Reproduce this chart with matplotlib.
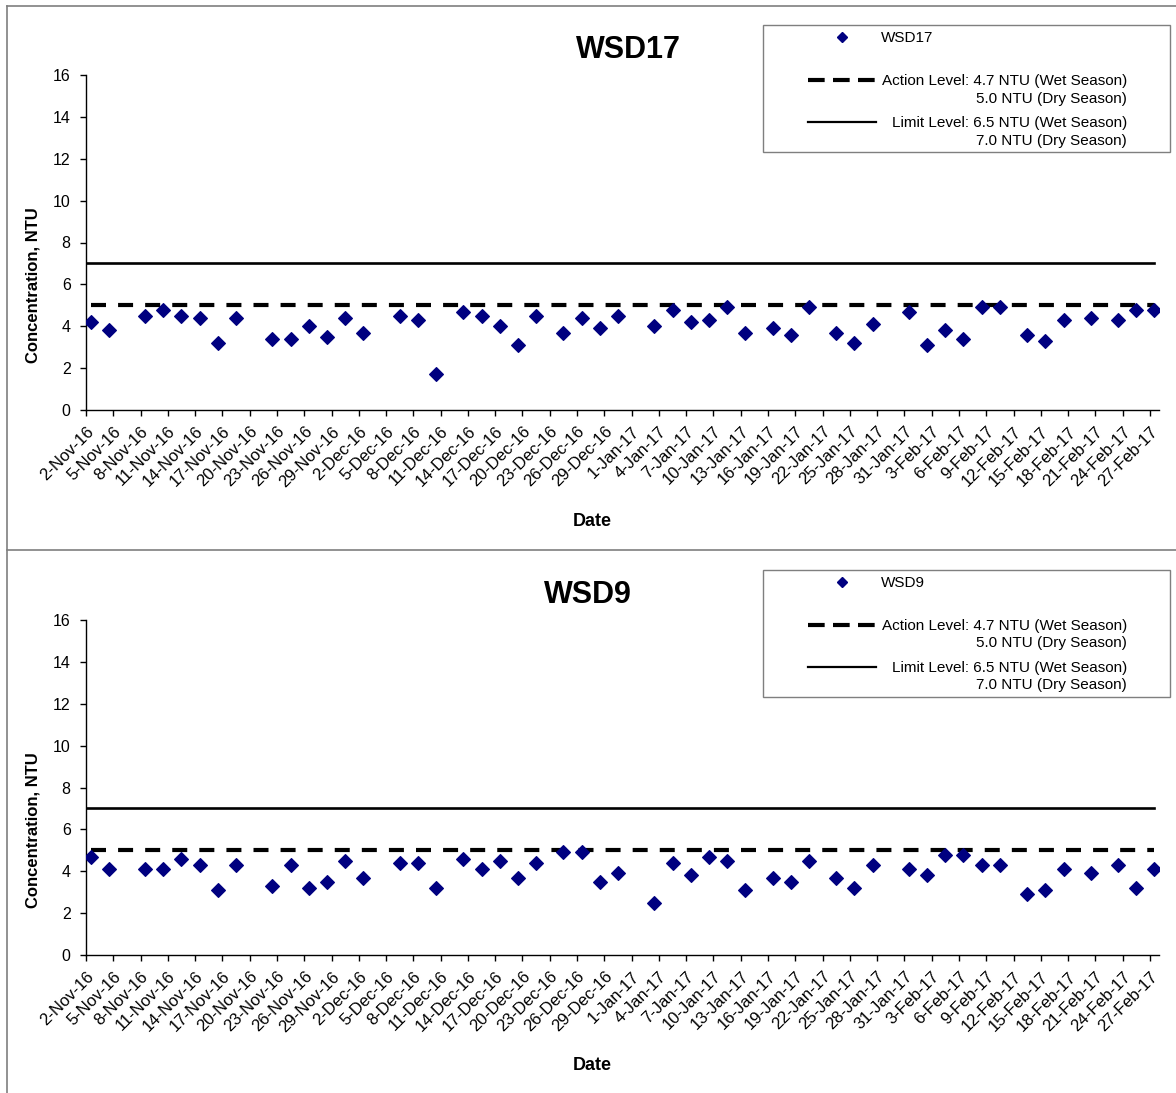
import numpy as np
import pandas as pd
import matplotlib
matplotlib.use("Agg")
import matplotlib.pyplot as plt
from matplotlib.lines import Line2D
from matplotlib.patches import Rectangle

plt.rcParams['font.family'] = ['Liberation Sans', 'DejaVu Sans']

# sampling dates (same for both stations)
sample_dates = [
    "2016-11-02", "2016-11-04", "2016-11-08", "2016-11-10", "2016-11-12", "2016-11-14",
    "2016-11-16", "2016-11-18", "2016-11-22", "2016-11-24", "2016-11-26", "2016-11-28",
    "2016-11-30", "2016-12-02", "2016-12-06", "2016-12-08", "2016-12-10", "2016-12-13",
    "2016-12-15", "2016-12-17", "2016-12-19", "2016-12-21", "2016-12-24", "2016-12-26",
    "2016-12-28", "2016-12-30", "2017-01-03", "2017-01-05", "2017-01-07", "2017-01-09",
    "2017-01-11", "2017-01-13", "2017-01-16", "2017-01-18", "2017-01-20", "2017-01-23",
    "2017-01-25", "2017-01-27", "2017-01-31", "2017-02-02", "2017-02-04", "2017-02-06",
    "2017-02-08", "2017-02-10", "2017-02-13", "2017-02-15", "2017-02-17", "2017-02-20",
    "2017-02-23", "2017-02-25", "2017-02-27",
]

wsd17 = [
    4.2, 3.8, 4.5, 4.8, 4.5, 4.4, 3.2, 4.4, 3.4, 3.4, 4.0, 3.5, 4.4,
    3.7, 4.5, 4.3, 1.7, 4.7, 4.5, 4.0, 3.1, 4.5, 3.7, 4.4, 3.9, 4.5,
    4.0, 4.8, 4.2, 4.3, 4.9, 3.7, 3.9, 3.6, 4.9, 3.7, 3.2, 4.1, 4.7,
    3.1, 3.8, 3.4, 4.9, 4.9, 3.6, 3.3, 4.3, 4.4, 4.3, 4.8, 4.8,
]

wsd9 = [
    4.7, 4.1, 4.1, 4.1, 4.6, 4.3, 3.1, 4.3, 3.3, 4.3, 3.2, 3.5, 4.5,
    3.7, 4.4, 4.4, 3.2, 4.6, 4.1, 4.5, 3.7, 4.4, 4.9, 4.9, 3.5, 3.9,
    2.5, 4.4, 3.8, 4.7, 4.5, 3.1, 3.7, 3.5, 4.5, 3.7, 3.2, 4.3, 4.1,
    3.8, 4.8, 4.8, 4.3, 4.3, 2.9, 3.1, 4.1, 3.9, 4.3, 3.2, 4.1,
]

action_level = 5.0
limit_level = 7.0
action_text = ["Action Level: 4.7 NTU (Wet Season)", "5.0 NTU (Dry Season)"]
limit_text = ["Limit Level: 6.5 NTU (Wet Season)", "7.0 NTU (Dry Season)"]
tick_start = "2016-11-02"
tick_end = "2017-02-27"
y_ticks = [0, 2, 4, 6, 8, 10, 12, 14, 16]

W, H = 1176, 1093
fig = plt.figure(figsize=(W / 100, H / 100), dpi=100)


def fx(x):
    return x / W


def fy(y):
    return 1 - y / H


t0 = pd.Timestamp(tick_start)
days = (pd.to_datetime(sample_dates) - t0).days.values + 0.5
tick_dates = pd.date_range(tick_start, tick_end, freq="3D")
tick_pos = (tick_dates - t0).days.values
tick_labels = [f"{d.day}-{d.strftime('%b-%y')}" for d in tick_dates]

NAVY = '#000080'
GRAY = '#7f7f7f'


def panel(off, name, values, title_x):
    # off = vertical pixel offset of this panel
    ax = fig.add_axes([fx(86), fy(off + 410), fx(1159) - fx(86), 335 / H])
    ax.plot(days, values, linestyle='none', marker='D', ms=7.0, mew=0.8,
            color=NAVY, mec=NAVY, zorder=4)
    ax.plot([days[0], days[-1]], [action_level] * 2, color='black', lw=3,
            dashes=(3.6, 2.9), zorder=3)
    ax.plot([0, days[-1]], [limit_level] * 2, color='black', lw=1.9, zorder=3)
    ax.set_xlim(0, 118)
    ax.set_ylim(0, 16)
    ax.set_yticks(y_ticks)
    ax.set_xticks(tick_pos)
    ax.set_xticklabels(tick_labels, rotation=45, ha='right', va='top',
                       rotation_mode='anchor')
    ax.tick_params(direction='out', length=4, width=1)
    ax.tick_params(axis='y', labelsize=11.5, pad=7)
    ax.tick_params(axis='x', labelsize=12, pad=6)
    for s in ['top', 'right']:
        ax.spines[s].set_visible(False)
    for s in ['left', 'bottom']:
        ax.spines[s].set_linewidth(1)

    fig.text(fx(title_x), fy(off + 50), name, ha='center', va='center',
             fontsize=22, fontweight='bold')
    fig.text(fx(33), fy(off + 285), "Concentration, NTU", rotation=90,
             ha='center', va='center', fontsize=12, fontweight='bold')
    fig.text(fx(592), fy(off + 521), "Date", ha='center', va='center',
             fontsize=13, fontweight='bold')

    # legend box drawn by hand
    fig.patches.append(Rectangle((fx(763), fy(off + 152)), fx(1170) - fx(763),
                                 127 / H, transform=fig.transFigure,
                                 facecolor='white', edgecolor=GRAY, lw=1, zorder=5))
    fig.lines.append(Line2D([fx(842)], [fy(off + 37)], marker='D', ms=4.8,
                            color=NAVY, transform=fig.transFigure, zorder=6))
    fig.text(fx(881), fy(off + 38), name, ha='left', va='center', fontsize=11, zorder=6)
    fig.lines.append(Line2D([fx(808), fx(876)], [fy(off + 80)] * 2, color='black',
                            lw=3, dashes=(4.0, 2.0), transform=fig.transFigure, zorder=6))
    fig.lines.append(Line2D([fx(808), fx(876)], [fy(off + 122)] * 2, color='black',
                            lw=1.6, transform=fig.transFigure, zorder=6))
    for i, line in enumerate(action_text):
        fig.text(fx(1127), fy(off + 81 + 17.5 * i), line, ha='right', va='center',
                 fontsize=11, zorder=6)
    for i, line in enumerate(limit_text):
        fig.text(fx(1127), fy(off + 123 + 17.5 * i), line, ha='right', va='center',
                 fontsize=11, zorder=6)
    return ax


panel(0, "WSD17", wsd17, 628)
panel(545, "WSD9", wsd9, 588)

# chart borders
for xs, ys in [([7, 1176], [6, 6]), ([7, 7], [6, 1093]), ([7, 1176], [550, 550])]:
    fig.lines.append(Line2D([fx(x) for x in xs], [fy(y) for y in ys], color=GRAY,
                            lw=1.2, transform=fig.transFigure))

fig.savefig("out.png", dpi=100)
